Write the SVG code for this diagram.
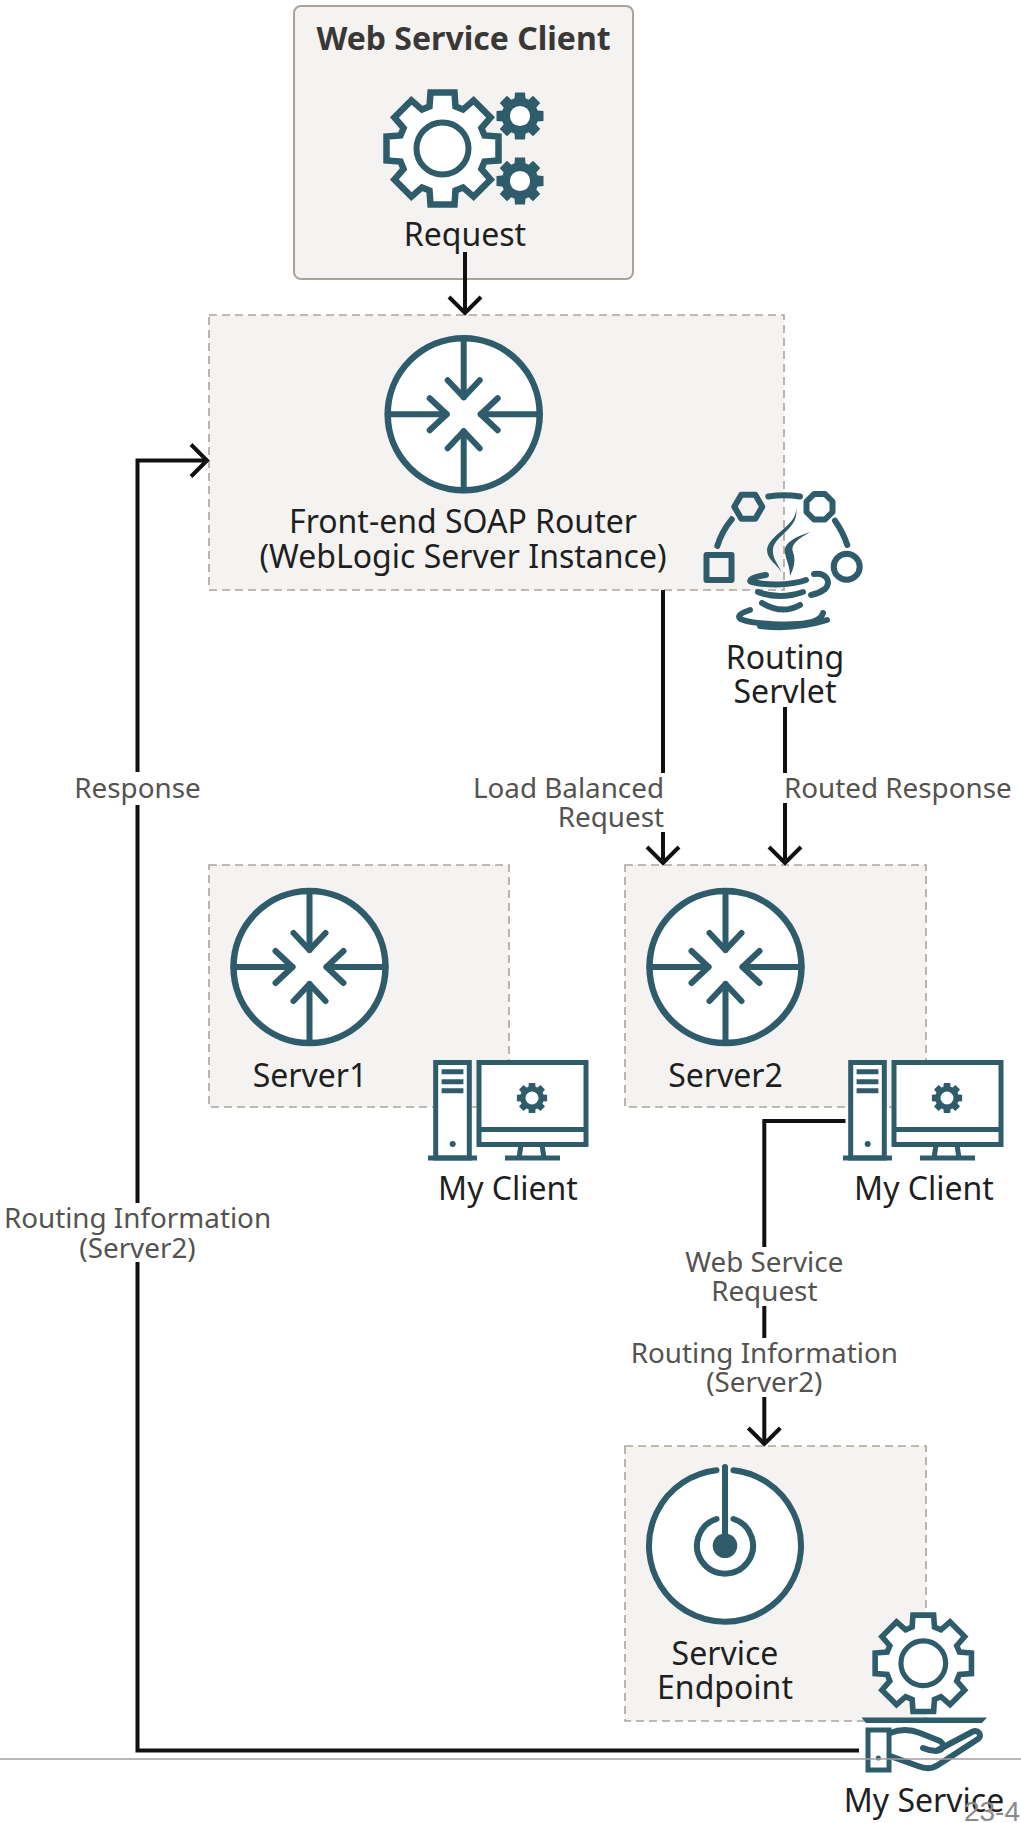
<svg xmlns="http://www.w3.org/2000/svg" width="1021" height="1823" viewBox="0 0 1021 1823">
<style>
text{font-family:"Noto Sans","Open Sans","Liberation Sans",sans-serif;}
.node{font-size:32px;fill:#1f1f1f;text-anchor:middle;}
.title{font-size:32px;font-weight:700;fill:#3a3836;text-anchor:middle;}
.lab{font-size:27.8px;fill:#555350;text-anchor:middle;}
.lab.end{text-anchor:end;}
.lab.start{text-anchor:start;}
.bg{fill:#fff;stroke:none;}
.box{fill:#f4f3f1;stroke:#aaa59d;stroke-width:1.6;stroke-dasharray:8 5;}
.solid{fill:#f4f3f1;stroke:#a8a39b;stroke-width:2;}
.conn{fill:none;stroke:#111;stroke-width:4;}
.ic{fill:none;stroke:#2f5c6b;stroke-width:6;stroke-linecap:round;stroke-linejoin:round;}
.icw{fill:#fff;stroke:#2f5c6b;stroke-width:6.5;}
.icb{fill:none;stroke:#2f5c6b;stroke-width:5;}
.tf{fill:#2f5c6b;stroke:none;}
</style>
<defs>
<marker id="arr" markerUnits="userSpaceOnUse" markerWidth="40" markerHeight="40" refX="20" refY="20" orient="auto" overflow="visible">
<path d="M4 4L20 20L4 36" fill="none" stroke="#111" stroke-width="4"/>
</marker>
<polygon id="gearshape" points="-13,-42 -12,-56 12,-56 13,-42 20.5,-38.9 31.1,-48.1 48.1,-31.1 38.9,-20.5 42,-13 56,-12 56,12 42,13 38.9,20.5 48.1,31.1 31.1,48.1 20.5,38.9 13,42 12,56 -12,56 -13,42 -20.5,38.9 -31.1,48.1 -48.1,31.1 -38.9,20.5 -42,13 -56,12 -56,-12 -42,-13 -38.9,-20.5 -48.1,-31.1 -31.1,-48.1 -20.5,-38.9"/>
<g id="gear">
<use href="#gearshape" fill="#fff" stroke="#2f5c6b" stroke-width="6.5"/>
<circle r="26" fill="none" stroke="#2f5c6b" stroke-width="6"/>
</g>
<g id="sgear">
<use href="#gearshape" fill="#2f5c6b"/>
<circle r="24" fill="#fff"/>
</g>
<g id="router">
<circle r="76" class="icw"/>
<path class="ic" stroke-linecap="butt" d="M0-76V-17M0 76V17M-76 0H-17M76 0H17"/>
<path class="ic" d="M-16-34L0-17L16-34M-16 34L0 17L16 34M-34-16L-17 0L-34 16M34-16L17 0L34 16"/>
</g>
<g id="client">
<rect x="3.7" y="2.5" width="33.6" height="95.5" fill="#fff" stroke="#2f5c6b" stroke-width="5"/>
<path class="icb" d="M-4 98H45M9.6 11.7H31.4M9.6 21.7H31.4M9.6 30.7H31.4"/>
<circle cx="20.7" cy="84" r="3" class="tf"/>
<rect x="47" y="2.5" width="107" height="82" fill="#fff" stroke="#2f5c6b" stroke-width="5"/>
<path class="icb" d="M47 69.5H154M89 85L87 98M110 85L112 98M73 98H128"/>
<use href="#sgear" transform="translate(100 38) scale(.27)"/>
</g>
</defs>

<rect width="1021" height="1823" fill="#fff"/>

<g id="client-box"><rect x="294" y="6" width="339" height="273" rx="7" class="solid"/><text x="463.5" y="50" class="title">Web Service Client</text></g>
<g id="router-box"><rect x="209" y="315" width="575" height="275" class="box"/></g>
<g id="server1-box"><rect x="209" y="865" width="300" height="242" class="box"/></g>
<g id="server2-box"><rect x="625" y="865" width="301" height="242" class="box"/></g>
<g id="endpoint-box"><rect x="625" y="1446" width="301" height="275" class="box"/></g>

<g id="connectors">
<path class="conn" d="M465 252V313" marker-end="url(#arr)"/>
<path class="conn" d="M663 590V863" marker-end="url(#arr)"/>
<path class="conn" d="M785 707V863" marker-end="url(#arr)"/>
<path class="conn" d="M859 1750.5H137.5V460.5H207" marker-end="url(#arr)"/>
<path class="conn" d="M845.5 1121H764.3V1444" marker-end="url(#arr)"/>
</g>

<g id="request-node">
<use href="#gear" transform="translate(442.5 148.5)"/>
<use href="#sgear" transform="translate(520 116) scale(.42)"/>
<use href="#sgear" transform="translate(520 181) scale(.42)"/>
<text x="465" y="246" class="node">Request</text>
</g>

<g id="soap-router">
<use href="#router" transform="translate(463.7 414.3)"/>
<text x="463" y="533" class="node">Front-end SOAP Router</text>
<text x="463" y="568" class="node">(WebLogic Server Instance)</text>
</g>

<g id="routing-servlet">
<rect x="706.5" y="555" width="25" height="25" class="ic" stroke-width="6.5" stroke-linecap="butt" stroke-linejoin="miter"/>
<polygon points="734.3,506.7 741.3,494.7 755.3,494.7 762.3,506.7 755.3,518.7 741.3,518.7" class="ic"/>
<polygon points="814,494 825,494 832.5,501.5 832.5,512 825,519.5 814,519.5 806.5,512 806.5,501.5" class="ic"/>
<circle cx="846.7" cy="566.7" r="13" class="ic"/>
<path class="ic" stroke-width="5" stroke-linecap="butt" d="M717.3 546Q722 531 731.7 519.3M768.3 496.5Q784 494 800 496.5M835 520.7Q843 532 847.3 545"/>
<path class="tf" d="M796 508C798 525 768 535 767 550C767 560 778 565 782 573C778 564 772 558 773 549C775 535 800 528 796 508Z"/>
<path class="tf" d="M810 532C795 537 783 543 785 553C786 560 790 566 790 576C794 568 796 560 793 552C790 544 800 538 810 532Z"/>
<path class="ic" stroke-width="3.6" d="M766 575C752 577 747 581 752 582C770 586 792 585 806 580M814 574C826 572 832 582 825 589C821 592 816 594 811 595"/>
<path class="ic" stroke-width="4" d="M758 592Q780 600 803 592M762 603Q782 615 800 605"/>
<path class="ic" stroke-width="3" d="M750 610C737 614 737 618 743 620C755 624 790 626 807 623C815 622 822 618 823 613"/>
<path class="ic" stroke-width="2" d="M760 626Q795 630 827 620"/>
<text x="785" y="669" class="node">Routing</text>
<text x="785" y="703" class="node">Servlet</text>
</g>

<g id="server1">
<use href="#router" transform="translate(309.5 967)"/>
<text x="310" y="1087" class="node">Server1</text>
</g>
<g id="client1">
<use href="#client" transform="translate(432 1060)"/>
<text x="508" y="1200" class="node">My Client</text>
</g>
<g id="server2">
<use href="#router" transform="translate(725.5 967)"/>
<text x="725.5" y="1087" class="node">Server2</text>
</g>
<g id="client2">
<use href="#client" transform="translate(847 1060)"/>
<text x="924" y="1200" class="node">My Client</text>
</g>

<g id="service-endpoint">
<circle cx="725" cy="1545.7" r="78" fill="#fff"/>
<path class="ic" stroke-linecap="butt" stroke-width="6.5" d="M716.5 1470.2A76 76 0 1 0 733.5 1470.2M716.5 1519A28 28 0 1 0 733.5 1519"/>
<path class="ic" stroke-linecap="butt" stroke-width="7.5" d="M725 1467V1545"/>
<circle cx="725" cy="1545.7" r="12.3" class="tf"/>
<text x="725" y="1665" class="node">Service</text>
<text x="725" y="1699" class="node">Endpoint</text>
</g>

<g id="my-service">
<use href="#gear" transform="translate(923.3 1663.3) scale(.86)"/>
<path class="tf" d="M861.5 1717.5H987L982 1723H866Z"/>
<rect x="868" y="1730" width="21" height="40" fill="#fff" stroke="#2f5c6b" stroke-width="5"/>
<circle cx="878.3" cy="1758" r="2.5" class="tf"/>
<path class="ic" stroke-width="5" d="M890 1733C900 1729 910 1729 920 1733L940 1741C945 1745 944 1750 936 1751Q930 1751 923 1748M938 1750L972 1732C978 1729 983 1735 978 1739L938 1765C932 1769 925 1769 918 1766L890 1756"/>
<text x="924" y="1812" class="node">My Service</text>
</g>

<g id="labels">
<rect class="bg" x="60" y="772" width="155" height="33"/>
<text x="137.5" y="798" class="lab">Response</text>
<rect class="bg" x="470" y="773" width="196" height="59"/>
<text x="664" y="798" class="lab end">Load Balanced</text>
<text x="664" y="827" class="lab end">Request</text>
<rect class="bg" x="783" y="773" width="236" height="30"/>
<text x="784" y="798" class="lab start">Routed Response</text>
<rect class="bg" x="4" y="1203" width="268" height="59"/>
<text x="137.5" y="1228" class="lab">Routing Information</text>
<text x="137.5" y="1258" class="lab">(Server2)</text>
<rect class="bg" x="684" y="1247" width="160" height="59"/>
<text x="764.3" y="1272" class="lab">Web Service</text>
<text x="764.3" y="1301" class="lab">Request</text>
<rect class="bg" x="630" y="1338" width="269" height="59"/>
<text x="764.3" y="1363" class="lab">Routing Information</text>
<text x="764.3" y="1392" class="lab">(Server2)</text>
</g>

<g id="footer">
<path d="M0 1759H1021" stroke="#a0a0a0" stroke-width="1.5"/>
<text x="1020" y="1821" font-size="28" fill="#8a8a8a" text-anchor="end" style="font-family:'Liberation Sans',sans-serif">23-4</text>
</g>
</svg>
